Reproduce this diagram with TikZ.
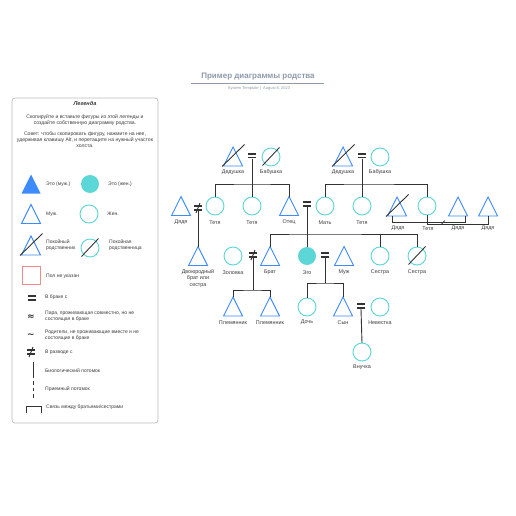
\documentclass[tikz,border=0pt]{standalone}
\usepackage{fontspec}
\setmainfont{Liberation Sans}
\newfontfamily\symfont{DejaVu Sans}
\definecolor{triblue}{HTML}{3D8BFD}
\definecolor{circteal}{HTML}{5CD6D6}
\definecolor{linec}{HTML}{333333}
\definecolor{txtc}{HTML}{3C3C3C}
\definecolor{titlec}{HTML}{8E9AAB}
\definecolor{redsq}{HTML}{F28C8C}
\definecolor{legborder}{HTML}{BBBBBB}
\begin{document}
\begin{tikzpicture}[x=1pt,y=-1pt,
  tri/.style={minimum width=19pt,minimum height=19pt,inner sep=0pt,outer sep=0pt},
  triline/.style={draw=triblue,line width=0.9pt,line join=miter},
  circ/.style={circle,draw=circteal,line width=0.9pt,minimum size=18pt,inner sep=0pt,outer sep=0pt},
  eqn/.style={minimum width=8pt,minimum height=6pt,inner sep=0pt,outer sep=0pt},
  conn/.style={draw=linec,line width=0.9pt},
  decl/.style={draw=linec,line width=0.9pt},
  lbl/.style={font=\fontsize{5.4}{6.2}\selectfont,text=txtc,inner sep=0pt,align=center},
  legt/.style={font=\fontsize{5}{6}\selectfont,text=txtc,inner sep=0pt,anchor=west,align=left},
  legp/.style={font=\fontsize{5.1}{6}\selectfont,text=txtc,inner sep=0pt,align=center},
  legsym/.style={font=\symfont\bfseries\fontsize{9}{9}\selectfont,text=linec,inner sep=0pt},
]
\useasboundingbox (0,0) rectangle (516,516);
\fill[white] (0,0) rectangle (516,516);

% ---------- title ----------
\node[font=\bfseries\fontsize{8}{9}\selectfont,text=titlec,inner sep=0pt] (title) at (258,77) {Пример диаграммы родства};
\draw[titlec,line width=0.6pt] (191,83) -- (324,83);
\node[font=\fontsize{4}{5}\selectfont,text=titlec,inner sep=0pt] (sub) at (259,88.5) {System Template \,|\, August 8, 2023};

% ---------- legend ----------
\draw[legborder,line width=0.7pt,rounded corners=3pt] (12,98) rectangle (158,423);
\node[font=\bfseries\itshape\fontsize{5.6}{6}\selectfont,text=txtc,inner sep=0pt] (legtitle) at (85,103.5) {Легенда};
\node[legp] (leg1) at (85,120) {Скопируйте и вставьте фигуры из этой легенды и\\создайте собственную диаграмму родства.};
\node[legp] (leg2) at (85,140) {Совет: чтобы скопировать фигуру, нажмите на нее,\\удерживая клавишу Alt, и перетащите на нужный участок\\холста.};

\node[tri] (lgEgoM) at (31,184) {};
\node[circle,fill=circteal,minimum size=18pt,inner sep=0pt] (lgEgoF) at (90,184) {};
\node[legt] (t1) at (46,184) {Это (муж.)};
\node[legt] (t2) at (108,184) {Это (жен.)};
\node[tri] (lgM) at (31,214) {};
\node[circ] (lgF) at (89,214) {};
\node[legt] (t3) at (46,214) {Муж.};
\node[legt] (t4) at (107,214) {Жен.};
\node[tri] (lgDM) at (31,245.5) {};
\node[circ] (lgDF) at (90,248) {};
\node[legt] (t5) at (46,245) {Покойный\\родственник};
\node[legt] (t6) at (109,245) {Покойная\\родственница};
\node[draw=redsq,line width=0.9pt,minimum size=18pt,inner sep=0pt] (lgU) at (31.5,275.5) {};
\node[legt] (t7) at (46,276) {Пол не указан};
\node[eqn] (lgEq) at (32,298) {};
\node[legt] (t8) at (45,297) {В браке с};
\node[legsym] (lgAp) at (31,317) {≈};
\node[legt] (t9) at (45,316.5) {Пара, проживающая совместно, но не\\состоящая в браке};
\node[legsym] (lgTl) at (31,335.5) {\char"007E};
\node[legt] (t10) at (45,335.5) {Родители, не проживающие вместе и не\\состоящие в браке};
\node[eqn] (lgNe) at (31,352) {};
\node[legt] (t11) at (45,352) {В разводе с};
\coordinate (bioA) at (33,362);
\coordinate (bioB) at (33,378);
\draw[conn] (bioA) -- (bioB);
\node[legt] (t12) at (45,370.5) {Биологический потомок};
\coordinate (adA) at (33,381);
\coordinate (adB) at (33,398);
\draw[conn,dash pattern=on 3.5pt off 3pt] (adA) -- (adB);
\node[legt] (t13) at (45,389) {Приемный потомок};
\coordinate (brA) at (26,413);
\coordinate (brB) at (41,413);
\draw[conn] (brA) -- (26,406) -- (41,406) -- (brB);
\node[legt] (t14) at (46,407.5) {Связь между братьями/сестрами};

% ---------- paternal grandparents ----------
\node[tri] (gpaP) at (233,156.5) {};
\node[eqn] (eqP) at (252,155.5) {};
\node[circ] (gmaP) at (271,157) {};
\node[lbl] at (233,172.5) {Дедушка};
\node[lbl] at (271,172.5) {Бабушка};
\coordinate (jP) at (252,184);

% ---------- maternal grandparents ----------
\node[tri] (gpaM) at (343,156.5) {};
\node[eqn] (eqM) at (362,155.5) {};
\node[circ] (gmaM) at (380,157) {};
\node[lbl] at (343,172.5) {Дедушка};
\node[lbl] at (380,172.5) {Бабушка};
\coordinate (jM) at (362,184);

% ---------- row 2 ----------
\node[tri] (uncleL) at (181,206) {};
\node[eqn] (neL) at (198,208) {};
\node[circ] (auntP1) at (215,206) {};
\node[circ] (auntP2) at (252,206) {};
\node[tri] (father) at (289,206) {};
\node[eqn] (eqPar) at (307,204) {};
\node[circ] (mother) at (325,206) {};
\node[circ] (auntM1) at (362,206) {};
\node[tri] (uncleD) at (397,206.5) {};
\node[circ] (auntM2) at (427,206) {};
\node[tri] (uncleR1) at (458,206.5) {};
\node[tri] (uncleR2) at (488,206.5) {};
\node[lbl] at (181,222.5) {Дядя};
\node[lbl] at (215,222.5) {Тетя};
\node[lbl] at (252,222.5) {Тетя};
\node[lbl] at (289,222.5) {Отец};
\node[lbl] at (325,222.5) {Мать};
\node[lbl] at (362,222.5) {Тетя};
\node[lbl] at (398,228.5) {Дядя};
\node[lbl] at (428,228.5) {Тетя};
\node[lbl] at (458,228.5) {Дядя};
\node[lbl] at (488,228.5) {Дядя};

% ---------- row 3 ----------
\node[tri] (cousin) at (198,256) {};
\node[circ] (sil) at (233,256) {};
\node[eqn] (neB) at (253,255) {};
\node[tri] (brother) at (270,256) {};
\node[circle,fill=circteal,minimum size=18pt,inner sep=0pt,outer sep=0pt] (ego) at (307,256) {};
\node[eqn] (eqE) at (325,255) {};
\node[tri] (husband) at (344,256) {};
\node[circ] (sister1) at (380,256) {};
\node[circ] (sister2) at (417,256) {};
\coordinate (jSib) at (307,234);
\node[lbl] at (198,278.5) {Двоюродный\\брат или\\сестра};
\node[lbl] at (233,272.5) {Золовка};
\node[lbl] at (270,272.5) {Брат};
\node[lbl] at (307,272.5) {Эго};
\node[lbl] at (344,272.5) {Муж};
\node[lbl] at (380,272.5) {Сестра};
\node[lbl] at (417,272.5) {Сестра};

% ---------- row 4 ----------
\node[tri] (neph1) at (233,306.5) {};
\node[tri] (neph2) at (270,306.5) {};
\node[circ] (daughter) at (307,307) {};
\node[tri] (son) at (343,306.5) {};
\node[eqn] (eqS) at (361,306) {};
\node[circ] (dil) at (380,307) {};
\node[circ] (gd) at (362,352) {};
\coordinate (jB) at (253,290);
\coordinate (jE) at (325,283);
\node[lbl] at (233,322.5) {Племянник};
\node[lbl] at (270,322.5) {Племянник};
\node[lbl] at (307,322.5) {Дочь};
\node[lbl] at (343,322.5) {Сын};
\node[lbl] at (380,322.5) {Невестка};
\node[lbl] at (362,367.5) {Внучка};

% ---------- triangles ----------
\fill[triblue] (lgEgoM.south west) -- (lgEgoM.north) -- (lgEgoM.south east) -- cycle;
\foreach \n in {lgM,lgDM,gpaP,gpaM,uncleL,father,uncleD,uncleR1,uncleR2,cousin,brother,husband,neph1,neph2,son}
  \draw[triline] (\n.south west) -- (\n.north) -- (\n.south east) -- cycle;

% ---------- equal / not-equal signs ----------
\foreach \n in {lgEq,lgNe,eqP,eqM,neL,eqPar,neB,eqE,eqS}{
  \draw[linec,line width=1.6pt] ([yshift=1.8pt]\n.west) -- ([yshift=1.8pt]\n.east);
  \draw[linec,line width=1.6pt] ([yshift=-1.8pt]\n.west) -- ([yshift=-1.8pt]\n.east);
}
\foreach \n in {lgNe,neL,neB}
  \draw[linec,line width=0.9pt] ([xshift=2pt,yshift=5pt]\n.center) -- ([xshift=-2pt,yshift=-5pt]\n.center);

% ---------- deceased marks ----------
\foreach \n in {lgDM,gpaP,gpaM,uncleD}
  \draw[decl] ([xshift=-1.5pt,yshift=-0.5pt]\n.south west) -- ([xshift=2pt,yshift=2.5pt]\n.north east);
\foreach \n in {lgDF,gmaP,sister2}
  \draw[decl] ([xshift=-8.5pt,yshift=-8.5pt]\n.center) -- ([xshift=8.5pt,yshift=9.5pt]\n.center);

% ---------- connectors ----------
\draw[conn] (eqP.south) -- (jP);
\draw[conn] (auntP1.north) |- (jP) -| (father.north);
\draw[conn] (jP) -- (auntP2.north);

\draw[conn] (eqM.south) -- (jM);
\draw[conn] (mother.north) |- (jM) -| (auntM2.north);
\draw[conn] (jM) -- (auntM1.north);

\draw[conn] (neL.south) -- (cousin.north);

\draw[conn] (eqPar.south) -- (ego.north);
\draw[conn] (brother.north) |- (jSib) -| (sister2.north);
\draw[conn] (sister1.north) -- (sister1.north |- jSib);

\draw[conn] (neB.south) -- (jB);
\draw[conn] (neph1.north) |- (jB) -| (neph2.north);

\draw[conn] (eqE.south) -- (jE);
\draw[conn] (daughter.north) |- (jE) -| (son.north);

\draw[conn] (eqS.south) -- (gd.north);

\coordinate (mA) at (392,222.5);
\draw[conn] ([xshift=-5pt]uncleD.south) -- (mA) -| ([xshift=7.5pt]uncleR1.south);
\coordinate (mB) at (427,224.5);
\draw[conn] (auntM2.south) -- (mB) -| (uncleR2.south);
\coordinate (dv) at (443,222.5);
\draw[conn,line width=0.7pt] ([xshift=-1.8pt,yshift=-2pt]dv) -- ([xshift=1.8pt,yshift=2pt]dv);
\end{tikzpicture}
\end{document}
